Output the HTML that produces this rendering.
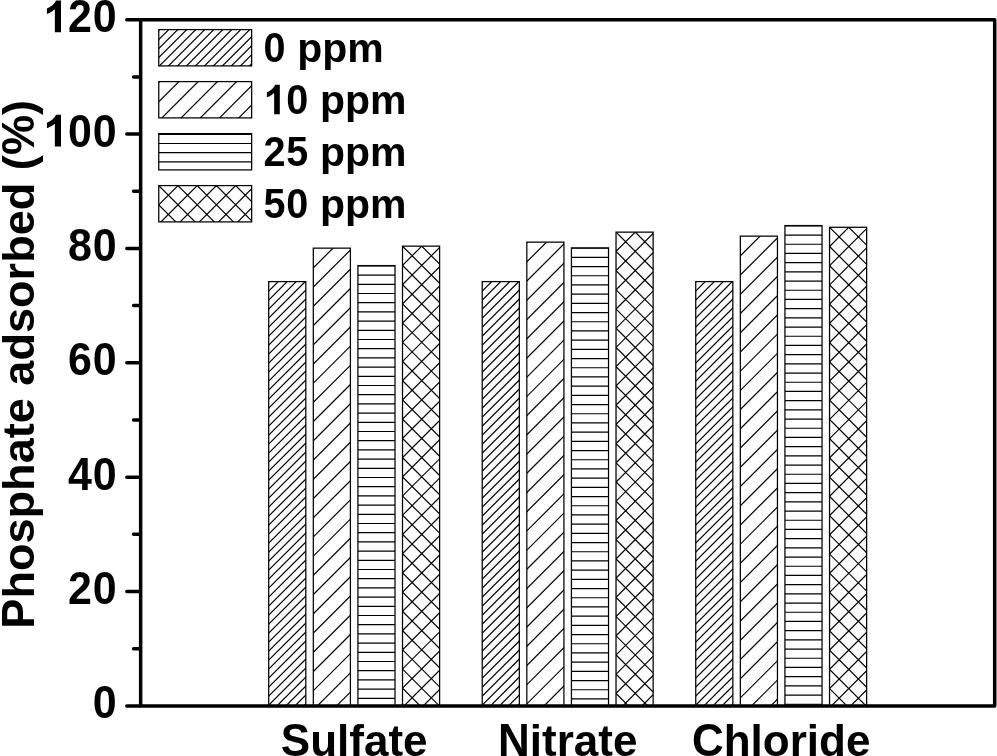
<!DOCTYPE html>
<html><head><meta charset="utf-8"><title>Phosphate adsorbed</title>
<style>
html,body{margin:0;padding:0;background:#fff;}
body{width:997px;height:756px;overflow:hidden;}
svg{display:block;will-change:transform;filter:blur(0.4px);}
text{font-family:"Liberation Sans",sans-serif;font-weight:bold;fill:#000;}
</style></head><body>
<svg width="997" height="756" viewBox="0 0 997 756">
<rect width="997" height="756" fill="#fff"/>
<clipPath id="c1"><rect x="268.71" y="281.60" width="37.10" height="424.30"/></clipPath>
<path clip-path="url(#c1)" d="M267.71 283.10L306.81 244.00M267.71 292.10L306.81 253.00M267.71 301.10L306.81 262.00M267.71 310.10L306.81 271.00M267.71 319.10L306.81 280.00M267.71 328.10L306.81 289.00M267.71 337.10L306.81 298.00M267.71 346.10L306.81 307.00M267.71 355.10L306.81 316.00M267.71 364.10L306.81 325.00M267.71 373.10L306.81 334.00M267.71 382.10L306.81 343.00M267.71 391.10L306.81 352.00M267.71 400.10L306.81 361.00M267.71 409.10L306.81 370.00M267.71 418.10L306.81 379.00M267.71 427.10L306.81 388.00M267.71 436.10L306.81 397.00M267.71 445.10L306.81 406.00M267.71 454.10L306.81 415.00M267.71 463.10L306.81 424.00M267.71 472.10L306.81 433.00M267.71 481.10L306.81 442.00M267.71 490.10L306.81 451.00M267.71 499.10L306.81 460.00M267.71 508.10L306.81 469.00M267.71 517.10L306.81 478.00M267.71 526.10L306.81 487.00M267.71 535.10L306.81 496.00M267.71 544.10L306.81 505.00M267.71 553.10L306.81 514.00M267.71 562.10L306.81 523.00M267.71 571.10L306.81 532.00M267.71 580.10L306.81 541.00M267.71 589.10L306.81 550.00M267.71 598.10L306.81 559.00M267.71 607.10L306.81 568.00M267.71 616.10L306.81 577.00M267.71 625.10L306.81 586.00M267.71 634.10L306.81 595.00M267.71 643.10L306.81 604.00M267.71 652.10L306.81 613.00M267.71 661.10L306.81 622.00M267.71 670.10L306.81 631.00M267.71 679.10L306.81 640.00M267.71 688.10L306.81 649.00M267.71 697.10L306.81 658.00M267.71 706.10L306.81 667.00M267.71 715.10L306.81 676.00M267.71 724.10L306.81 685.00M267.71 733.10L306.81 694.00M267.71 742.10L306.81 703.00" stroke="#000" stroke-width="1.2" fill="none"/>
<rect x="268.71" y="281.60" width="37.10" height="424.30" fill="none" stroke="#000" stroke-width="1.25"/>
<clipPath id="c2"><rect x="313.31" y="248.15" width="37.10" height="457.75"/></clipPath>
<path clip-path="url(#c2)" d="M312.31 249.65L351.41 210.55M312.31 268.87L351.41 229.77M312.31 288.09L351.41 248.99M312.31 307.31L351.41 268.21M312.31 326.53L351.41 287.43M312.31 345.75L351.41 306.65M312.31 364.97L351.41 325.87M312.31 384.19L351.41 345.09M312.31 403.41L351.41 364.31M312.31 422.63L351.41 383.53M312.31 441.85L351.41 402.75M312.31 461.07L351.41 421.97M312.31 480.29L351.41 441.19M312.31 499.51L351.41 460.41M312.31 518.73L351.41 479.63M312.31 537.95L351.41 498.85M312.31 557.17L351.41 518.07M312.31 576.39L351.41 537.29M312.31 595.61L351.41 556.51M312.31 614.83L351.41 575.73M312.31 634.05L351.41 594.95M312.31 653.27L351.41 614.17M312.31 672.49L351.41 633.39M312.31 691.71L351.41 652.61M312.31 710.93L351.41 671.83M312.31 730.15L351.41 691.05" stroke="#000" stroke-width="1.2" fill="none"/>
<rect x="313.31" y="248.15" width="37.10" height="457.75" fill="none" stroke="#000" stroke-width="1.25"/>
<clipPath id="c3"><rect x="357.91" y="265.59" width="37.10" height="440.31"/></clipPath>
<path clip-path="url(#c3)" d="M357.91 265.89H395.01M357.91 275.09H395.01M357.91 284.29H395.01M357.91 293.49H395.01M357.91 302.69H395.01M357.91 311.89H395.01M357.91 321.09H395.01M357.91 330.29H395.01M357.91 339.49H395.01M357.91 348.69H395.01M357.91 357.89H395.01M357.91 367.09H395.01M357.91 376.29H395.01M357.91 385.49H395.01M357.91 394.69H395.01M357.91 403.89H395.01M357.91 413.09H395.01M357.91 422.29H395.01M357.91 431.49H395.01M357.91 440.69H395.01M357.91 449.89H395.01M357.91 459.09H395.01M357.91 468.29H395.01M357.91 477.49H395.01M357.91 486.69H395.01M357.91 495.89H395.01M357.91 505.09H395.01M357.91 514.29H395.01M357.91 523.49H395.01M357.91 532.69H395.01M357.91 541.89H395.01M357.91 551.09H395.01M357.91 560.29H395.01M357.91 569.49H395.01M357.91 578.69H395.01M357.91 587.89H395.01M357.91 597.09H395.01M357.91 606.29H395.01M357.91 615.49H395.01M357.91 624.69H395.01M357.91 633.89H395.01M357.91 643.09H395.01M357.91 652.29H395.01M357.91 661.49H395.01M357.91 670.69H395.01M357.91 679.89H395.01M357.91 689.09H395.01M357.91 698.29H395.01" stroke="#000" stroke-width="1.2" fill="none"/>
<rect x="357.91" y="265.59" width="37.10" height="440.31" fill="none" stroke="#000" stroke-width="1.25"/>
<clipPath id="c4"><rect x="402.51" y="246.15" width="37.10" height="459.75"/></clipPath>
<path clip-path="url(#c4)" d="M401.51 247.15L440.61 208.05M401.51 266.37L440.61 227.27M401.51 285.59L440.61 246.49M401.51 304.81L440.61 265.71M401.51 324.03L440.61 284.93M401.51 343.25L440.61 304.15M401.51 362.47L440.61 323.37M401.51 381.69L440.61 342.59M401.51 400.91L440.61 361.81M401.51 420.13L440.61 381.03M401.51 439.35L440.61 400.25M401.51 458.57L440.61 419.47M401.51 477.79L440.61 438.69M401.51 497.01L440.61 457.91M401.51 516.23L440.61 477.13M401.51 535.45L440.61 496.35M401.51 554.67L440.61 515.57M401.51 573.89L440.61 534.79M401.51 593.11L440.61 554.01M401.51 612.33L440.61 573.23M401.51 631.55L440.61 592.45M401.51 650.77L440.61 611.67M401.51 669.99L440.61 630.89M401.51 689.21L440.61 650.11M401.51 708.43L440.61 669.33M401.51 727.65L440.61 688.55M401.51 225.93L440.61 265.03M401.51 245.15L440.61 284.25M401.51 264.37L440.61 303.47M401.51 283.59L440.61 322.69M401.51 302.81L440.61 341.91M401.51 322.03L440.61 361.13M401.51 341.25L440.61 380.35M401.51 360.47L440.61 399.57M401.51 379.69L440.61 418.79M401.51 398.91L440.61 438.01M401.51 418.13L440.61 457.23M401.51 437.35L440.61 476.45M401.51 456.57L440.61 495.67M401.51 475.79L440.61 514.89M401.51 495.01L440.61 534.11M401.51 514.23L440.61 553.33M401.51 533.45L440.61 572.55M401.51 552.67L440.61 591.77M401.51 571.89L440.61 610.99M401.51 591.11L440.61 630.21M401.51 610.33L440.61 649.43M401.51 629.55L440.61 668.65M401.51 648.77L440.61 687.87M401.51 667.99L440.61 707.09M401.51 687.21L440.61 726.31" stroke="#000" stroke-width="1.2" fill="none"/>
<rect x="402.51" y="246.15" width="37.10" height="459.75" fill="none" stroke="#000" stroke-width="1.25"/>
<clipPath id="c5"><rect x="482.23" y="281.60" width="37.10" height="424.30"/></clipPath>
<path clip-path="url(#c5)" d="M481.23 283.10L520.33 244.00M481.23 292.10L520.33 253.00M481.23 301.10L520.33 262.00M481.23 310.10L520.33 271.00M481.23 319.10L520.33 280.00M481.23 328.10L520.33 289.00M481.23 337.10L520.33 298.00M481.23 346.10L520.33 307.00M481.23 355.10L520.33 316.00M481.23 364.10L520.33 325.00M481.23 373.10L520.33 334.00M481.23 382.10L520.33 343.00M481.23 391.10L520.33 352.00M481.23 400.10L520.33 361.00M481.23 409.10L520.33 370.00M481.23 418.10L520.33 379.00M481.23 427.10L520.33 388.00M481.23 436.10L520.33 397.00M481.23 445.10L520.33 406.00M481.23 454.10L520.33 415.00M481.23 463.10L520.33 424.00M481.23 472.10L520.33 433.00M481.23 481.10L520.33 442.00M481.23 490.10L520.33 451.00M481.23 499.10L520.33 460.00M481.23 508.10L520.33 469.00M481.23 517.10L520.33 478.00M481.23 526.10L520.33 487.00M481.23 535.10L520.33 496.00M481.23 544.10L520.33 505.00M481.23 553.10L520.33 514.00M481.23 562.10L520.33 523.00M481.23 571.10L520.33 532.00M481.23 580.10L520.33 541.00M481.23 589.10L520.33 550.00M481.23 598.10L520.33 559.00M481.23 607.10L520.33 568.00M481.23 616.10L520.33 577.00M481.23 625.10L520.33 586.00M481.23 634.10L520.33 595.00M481.23 643.10L520.33 604.00M481.23 652.10L520.33 613.00M481.23 661.10L520.33 622.00M481.23 670.10L520.33 631.00M481.23 679.10L520.33 640.00M481.23 688.10L520.33 649.00M481.23 697.10L520.33 658.00M481.23 706.10L520.33 667.00M481.23 715.10L520.33 676.00M481.23 724.10L520.33 685.00M481.23 733.10L520.33 694.00M481.23 742.10L520.33 703.00" stroke="#000" stroke-width="1.2" fill="none"/>
<rect x="482.23" y="281.60" width="37.10" height="424.30" fill="none" stroke="#000" stroke-width="1.25"/>
<clipPath id="c6"><rect x="526.83" y="242.14" width="37.10" height="463.76"/></clipPath>
<path clip-path="url(#c6)" d="M525.83 243.64L564.93 204.54M525.83 262.86L564.93 223.76M525.83 282.08L564.93 242.98M525.83 301.30L564.93 262.20M525.83 320.52L564.93 281.42M525.83 339.74L564.93 300.64M525.83 358.96L564.93 319.86M525.83 378.18L564.93 339.08M525.83 397.40L564.93 358.30M525.83 416.62L564.93 377.52M525.83 435.84L564.93 396.74M525.83 455.06L564.93 415.96M525.83 474.28L564.93 435.18M525.83 493.50L564.93 454.40M525.83 512.72L564.93 473.62M525.83 531.94L564.93 492.84M525.83 551.16L564.93 512.06M525.83 570.38L564.93 531.28M525.83 589.60L564.93 550.50M525.83 608.82L564.93 569.72M525.83 628.04L564.93 588.94M525.83 647.26L564.93 608.16M525.83 666.48L564.93 627.38M525.83 685.70L564.93 646.60M525.83 704.92L564.93 665.82M525.83 724.14L564.93 685.04M525.83 743.36L564.93 704.26" stroke="#000" stroke-width="1.2" fill="none"/>
<rect x="526.83" y="242.14" width="37.10" height="463.76" fill="none" stroke="#000" stroke-width="1.25"/>
<clipPath id="c7"><rect x="571.43" y="247.86" width="37.10" height="458.04"/></clipPath>
<path clip-path="url(#c7)" d="M571.43 248.16H608.52M571.43 257.36H608.52M571.43 266.56H608.52M571.43 275.76H608.52M571.43 284.96H608.52M571.43 294.16H608.52M571.43 303.36H608.52M571.43 312.56H608.52M571.43 321.76H608.52M571.43 330.96H608.52M571.43 340.16H608.52M571.43 349.36H608.52M571.43 358.56H608.52M571.43 367.76H608.52M571.43 376.96H608.52M571.43 386.16H608.52M571.43 395.36H608.52M571.43 404.56H608.52M571.43 413.76H608.52M571.43 422.96H608.52M571.43 432.16H608.52M571.43 441.36H608.52M571.43 450.56H608.52M571.43 459.76H608.52M571.43 468.96H608.52M571.43 478.16H608.52M571.43 487.36H608.52M571.43 496.56H608.52M571.43 505.76H608.52M571.43 514.96H608.52M571.43 524.16H608.52M571.43 533.36H608.52M571.43 542.56H608.52M571.43 551.76H608.52M571.43 560.96H608.52M571.43 570.16H608.52M571.43 579.36H608.52M571.43 588.56H608.52M571.43 597.76H608.52M571.43 606.96H608.52M571.43 616.16H608.52M571.43 625.36H608.52M571.43 634.56H608.52M571.43 643.76H608.52M571.43 652.96H608.52M571.43 662.16H608.52M571.43 671.36H608.52M571.43 680.56H608.52M571.43 689.76H608.52M571.43 698.96H608.52" stroke="#000" stroke-width="1.2" fill="none"/>
<rect x="571.43" y="247.86" width="37.10" height="458.04" fill="none" stroke="#000" stroke-width="1.25"/>
<clipPath id="c8"><rect x="616.03" y="232.14" width="37.10" height="473.76"/></clipPath>
<path clip-path="url(#c8)" d="M615.03 233.14L654.12 194.04M615.03 252.36L654.12 213.26M615.03 271.58L654.12 232.48M615.03 290.80L654.12 251.70M615.03 310.02L654.12 270.92M615.03 329.24L654.12 290.14M615.03 348.46L654.12 309.36M615.03 367.68L654.12 328.58M615.03 386.90L654.12 347.80M615.03 406.12L654.12 367.02M615.03 425.34L654.12 386.24M615.03 444.56L654.12 405.46M615.03 463.78L654.12 424.68M615.03 483.00L654.12 443.90M615.03 502.22L654.12 463.12M615.03 521.44L654.12 482.34M615.03 540.66L654.12 501.56M615.03 559.88L654.12 520.78M615.03 579.10L654.12 540.00M615.03 598.32L654.12 559.22M615.03 617.54L654.12 578.44M615.03 636.76L654.12 597.66M615.03 655.98L654.12 616.88M615.03 675.20L654.12 636.10M615.03 694.42L654.12 655.32M615.03 713.64L654.12 674.54M615.03 732.86L654.12 693.76M615.03 211.92L654.12 251.02M615.03 231.14L654.12 270.24M615.03 250.36L654.12 289.46M615.03 269.58L654.12 308.68M615.03 288.80L654.12 327.90M615.03 308.02L654.12 347.12M615.03 327.24L654.12 366.34M615.03 346.46L654.12 385.56M615.03 365.68L654.12 404.78M615.03 384.90L654.12 424.00M615.03 404.12L654.12 443.22M615.03 423.34L654.12 462.44M615.03 442.56L654.12 481.66M615.03 461.78L654.12 500.88M615.03 481.00L654.12 520.10M615.03 500.22L654.12 539.32M615.03 519.44L654.12 558.54M615.03 538.66L654.12 577.76M615.03 557.88L654.12 596.98M615.03 577.10L654.12 616.20M615.03 596.32L654.12 635.42M615.03 615.54L654.12 654.64M615.03 634.76L654.12 673.86M615.03 653.98L654.12 693.08M615.03 673.20L654.12 712.30M615.03 692.42L654.12 731.52" stroke="#000" stroke-width="1.2" fill="none"/>
<rect x="616.03" y="232.14" width="37.10" height="473.76" fill="none" stroke="#000" stroke-width="1.25"/>
<clipPath id="c9"><rect x="695.74" y="281.60" width="37.10" height="424.30"/></clipPath>
<path clip-path="url(#c9)" d="M694.74 283.10L733.84 244.00M694.74 292.10L733.84 253.00M694.74 301.10L733.84 262.00M694.74 310.10L733.84 271.00M694.74 319.10L733.84 280.00M694.74 328.10L733.84 289.00M694.74 337.10L733.84 298.00M694.74 346.10L733.84 307.00M694.74 355.10L733.84 316.00M694.74 364.10L733.84 325.00M694.74 373.10L733.84 334.00M694.74 382.10L733.84 343.00M694.74 391.10L733.84 352.00M694.74 400.10L733.84 361.00M694.74 409.10L733.84 370.00M694.74 418.10L733.84 379.00M694.74 427.10L733.84 388.00M694.74 436.10L733.84 397.00M694.74 445.10L733.84 406.00M694.74 454.10L733.84 415.00M694.74 463.10L733.84 424.00M694.74 472.10L733.84 433.00M694.74 481.10L733.84 442.00M694.74 490.10L733.84 451.00M694.74 499.10L733.84 460.00M694.74 508.10L733.84 469.00M694.74 517.10L733.84 478.00M694.74 526.10L733.84 487.00M694.74 535.10L733.84 496.00M694.74 544.10L733.84 505.00M694.74 553.10L733.84 514.00M694.74 562.10L733.84 523.00M694.74 571.10L733.84 532.00M694.74 580.10L733.84 541.00M694.74 589.10L733.84 550.00M694.74 598.10L733.84 559.00M694.74 607.10L733.84 568.00M694.74 616.10L733.84 577.00M694.74 625.10L733.84 586.00M694.74 634.10L733.84 595.00M694.74 643.10L733.84 604.00M694.74 652.10L733.84 613.00M694.74 661.10L733.84 622.00M694.74 670.10L733.84 631.00M694.74 679.10L733.84 640.00M694.74 688.10L733.84 649.00M694.74 697.10L733.84 658.00M694.74 706.10L733.84 667.00M694.74 715.10L733.84 676.00M694.74 724.10L733.84 685.00M694.74 733.10L733.84 694.00M694.74 742.10L733.84 703.00" stroke="#000" stroke-width="1.2" fill="none"/>
<rect x="695.74" y="281.60" width="37.10" height="424.30" fill="none" stroke="#000" stroke-width="1.25"/>
<clipPath id="c10"><rect x="740.34" y="236.14" width="37.10" height="469.76"/></clipPath>
<path clip-path="url(#c10)" d="M739.34 237.64L778.44 198.54M739.34 256.86L778.44 217.76M739.34 276.08L778.44 236.98M739.34 295.30L778.44 256.20M739.34 314.52L778.44 275.42M739.34 333.74L778.44 294.64M739.34 352.96L778.44 313.86M739.34 372.18L778.44 333.08M739.34 391.40L778.44 352.30M739.34 410.62L778.44 371.52M739.34 429.84L778.44 390.74M739.34 449.06L778.44 409.96M739.34 468.28L778.44 429.18M739.34 487.50L778.44 448.40M739.34 506.72L778.44 467.62M739.34 525.94L778.44 486.84M739.34 545.16L778.44 506.06M739.34 564.38L778.44 525.28M739.34 583.60L778.44 544.50M739.34 602.82L778.44 563.72M739.34 622.04L778.44 582.94M739.34 641.26L778.44 602.16M739.34 660.48L778.44 621.38M739.34 679.70L778.44 640.60M739.34 698.92L778.44 659.82M739.34 718.14L778.44 679.04M739.34 737.36L778.44 698.26" stroke="#000" stroke-width="1.2" fill="none"/>
<rect x="740.34" y="236.14" width="37.10" height="469.76" fill="none" stroke="#000" stroke-width="1.25"/>
<clipPath id="c11"><rect x="784.94" y="225.56" width="37.10" height="480.34"/></clipPath>
<path clip-path="url(#c11)" d="M784.94 225.86H822.04M784.94 235.06H822.04M784.94 244.26H822.04M784.94 253.46H822.04M784.94 262.66H822.04M784.94 271.86H822.04M784.94 281.06H822.04M784.94 290.26H822.04M784.94 299.46H822.04M784.94 308.66H822.04M784.94 317.86H822.04M784.94 327.06H822.04M784.94 336.26H822.04M784.94 345.46H822.04M784.94 354.66H822.04M784.94 363.86H822.04M784.94 373.06H822.04M784.94 382.26H822.04M784.94 391.46H822.04M784.94 400.66H822.04M784.94 409.86H822.04M784.94 419.06H822.04M784.94 428.26H822.04M784.94 437.46H822.04M784.94 446.66H822.04M784.94 455.86H822.04M784.94 465.06H822.04M784.94 474.26H822.04M784.94 483.46H822.04M784.94 492.66H822.04M784.94 501.86H822.04M784.94 511.06H822.04M784.94 520.26H822.04M784.94 529.46H822.04M784.94 538.66H822.04M784.94 547.86H822.04M784.94 557.06H822.04M784.94 566.26H822.04M784.94 575.46H822.04M784.94 584.66H822.04M784.94 593.86H822.04M784.94 603.06H822.04M784.94 612.26H822.04M784.94 621.46H822.04M784.94 630.66H822.04M784.94 639.86H822.04M784.94 649.06H822.04M784.94 658.26H822.04M784.94 667.46H822.04M784.94 676.66H822.04M784.94 685.86H822.04M784.94 695.06H822.04M784.94 704.26H822.04" stroke="#000" stroke-width="1.2" fill="none"/>
<rect x="784.94" y="225.56" width="37.10" height="480.34" fill="none" stroke="#000" stroke-width="1.25"/>
<clipPath id="c12"><rect x="829.54" y="227.28" width="37.10" height="478.62"/></clipPath>
<path clip-path="url(#c12)" d="M828.54 228.28L867.64 189.18M828.54 247.50L867.64 208.40M828.54 266.72L867.64 227.62M828.54 285.94L867.64 246.84M828.54 305.16L867.64 266.06M828.54 324.38L867.64 285.28M828.54 343.60L867.64 304.50M828.54 362.82L867.64 323.72M828.54 382.04L867.64 342.94M828.54 401.26L867.64 362.16M828.54 420.48L867.64 381.38M828.54 439.70L867.64 400.60M828.54 458.92L867.64 419.82M828.54 478.14L867.64 439.04M828.54 497.36L867.64 458.26M828.54 516.58L867.64 477.48M828.54 535.80L867.64 496.70M828.54 555.02L867.64 515.92M828.54 574.24L867.64 535.14M828.54 593.46L867.64 554.36M828.54 612.68L867.64 573.58M828.54 631.90L867.64 592.80M828.54 651.12L867.64 612.02M828.54 670.34L867.64 631.24M828.54 689.56L867.64 650.46M828.54 708.78L867.64 669.68M828.54 728.00L867.64 688.90M828.54 207.06L867.64 246.16M828.54 226.28L867.64 265.38M828.54 245.50L867.64 284.60M828.54 264.72L867.64 303.82M828.54 283.94L867.64 323.04M828.54 303.16L867.64 342.26M828.54 322.38L867.64 361.48M828.54 341.60L867.64 380.70M828.54 360.82L867.64 399.92M828.54 380.04L867.64 419.14M828.54 399.26L867.64 438.36M828.54 418.48L867.64 457.58M828.54 437.70L867.64 476.80M828.54 456.92L867.64 496.02M828.54 476.14L867.64 515.24M828.54 495.36L867.64 534.46M828.54 514.58L867.64 553.68M828.54 533.80L867.64 572.90M828.54 553.02L867.64 592.12M828.54 572.24L867.64 611.34M828.54 591.46L867.64 630.56M828.54 610.68L867.64 649.78M828.54 629.90L867.64 669.00M828.54 649.12L867.64 688.22M828.54 668.34L867.64 707.44M828.54 687.56L867.64 726.66" stroke="#000" stroke-width="1.2" fill="none"/>
<rect x="829.54" y="227.28" width="37.10" height="478.62" fill="none" stroke="#000" stroke-width="1.25"/>
<clipPath id="c13"><rect x="158.76" y="29.60" width="92.90" height="36.30"/></clipPath>
<path clip-path="url(#c13)" d="M157.76 31.60L252.66 -63.30M157.76 40.60L252.66 -54.30M157.76 49.60L252.66 -45.30M157.76 58.60L252.66 -36.30M157.76 67.60L252.66 -27.30M157.76 76.60L252.66 -18.30M157.76 85.60L252.66 -9.30M157.76 94.60L252.66 -0.30M157.76 103.60L252.66 8.70M157.76 112.60L252.66 17.70M157.76 121.60L252.66 26.70M157.76 130.60L252.66 35.70M157.76 139.60L252.66 44.70M157.76 148.60L252.66 53.70M157.76 157.60L252.66 62.70" stroke="#000" stroke-width="1.2" fill="none"/>
<rect x="158.76" y="29.60" width="92.90" height="36.30" fill="none" stroke="#000" stroke-width="1.25"/>
<text transform="translate(263.40 62.20) scale(0.965 1.04)" font-size="41.0">0</text>
<text transform="translate(285.80 62.20)" font-size="41.0">&#160;ppm</text>
<clipPath id="c14"><rect x="158.76" y="81.60" width="92.90" height="36.30"/></clipPath>
<path clip-path="url(#c14)" d="M157.76 83.60L252.66 -11.30M157.76 102.82L252.66 7.92M157.76 122.04L252.66 27.14M157.76 141.26L252.66 46.36M157.76 160.48L252.66 65.58M157.76 179.70L252.66 84.80M157.76 198.92L252.66 104.02" stroke="#000" stroke-width="1.2" fill="none"/>
<rect x="158.76" y="81.60" width="92.90" height="36.30" fill="none" stroke="#000" stroke-width="1.25"/>
<path transform="translate(263.66 114.25) scale(0.02002 -0.02001)" d="M806 0H524V1062Q369 917 160 848V1104Q270 1140 399 1240.5Q528 1341 576 1472H806Z" fill="#000"/>
<text transform="translate(286.20 114.25) scale(0.965 1.04)" font-size="41.0">0</text>
<text transform="translate(308.60 114.25)" font-size="41.0">&#160;ppm</text>
<clipPath id="c15"><rect x="158.76" y="133.60" width="92.90" height="36.30"/></clipPath>
<path clip-path="url(#c15)" d="M158.76 134.30H251.66M158.76 143.50H251.66M158.76 152.70H251.66M158.76 161.90H251.66" stroke="#000" stroke-width="1.2" fill="none"/>
<rect x="158.76" y="133.60" width="92.90" height="36.30" fill="none" stroke="#000" stroke-width="1.25"/>
<text transform="translate(263.40 166.30) scale(0.965 1.04)" font-size="41.0">2</text>
<text transform="translate(286.20 166.30) scale(0.965 1.04)" font-size="41.0">5</text>
<text transform="translate(308.60 166.30)" font-size="41.0">&#160;ppm</text>
<clipPath id="c16"><rect x="158.76" y="185.60" width="92.90" height="36.30"/></clipPath>
<path clip-path="url(#c16)" d="M157.76 186.60L252.66 91.70M157.76 205.82L252.66 110.92M157.76 225.04L252.66 130.14M157.76 244.26L252.66 149.36M157.76 263.48L252.66 168.58M157.76 282.70L252.66 187.80M157.76 301.92L252.66 207.02M157.76 107.72L252.66 202.62M157.76 126.94L252.66 221.84M157.76 146.16L252.66 241.06M157.76 165.38L252.66 260.28M157.76 184.60L252.66 279.50M157.76 203.82L252.66 298.72" stroke="#000" stroke-width="1.2" fill="none"/>
<rect x="158.76" y="185.60" width="92.90" height="36.30" fill="none" stroke="#000" stroke-width="1.25"/>
<text transform="translate(263.40 218.35) scale(0.965 1.04)" font-size="41.0">5</text>
<text transform="translate(286.20 218.35) scale(0.965 1.04)" font-size="41.0">0</text>
<text transform="translate(308.60 218.35)" font-size="41.0">&#160;ppm</text>
<rect x="140.65" y="19.70" width="854.05" height="686.20" fill="none" stroke="#000" stroke-width="3.5" stroke-linejoin="round"/>
<path d="M126.80 705.90H139.65M133.60 648.72H139.65M126.80 591.53H139.65M133.60 534.35H139.65M126.80 477.17H139.65M133.60 419.98H139.65M126.80 362.80H139.65M133.60 305.62H139.65M126.80 248.43H139.65M133.60 191.25H139.65M126.80 134.07H139.65M133.60 76.88H139.65M126.80 19.70H139.65" stroke="#000" stroke-width="3.5" stroke-linecap="round" fill="none"/>
<text transform="translate(92.68 718.45) scale(0.965 1.035)" font-size="44.5">0</text>
<text transform="translate(67.94 604.08) scale(0.965 1.035)" font-size="44.5">2</text>
<text transform="translate(92.68 604.08) scale(0.965 1.035)" font-size="44.5">0</text>
<text transform="translate(67.94 489.72) scale(0.965 1.035)" font-size="44.5">4</text>
<text transform="translate(92.68 489.72) scale(0.965 1.035)" font-size="44.5">0</text>
<text transform="translate(67.94 375.35) scale(0.965 1.035)" font-size="44.5">6</text>
<text transform="translate(92.68 375.35) scale(0.965 1.035)" font-size="44.5">0</text>
<text transform="translate(67.94 260.98) scale(0.965 1.035)" font-size="44.5">8</text>
<text transform="translate(92.68 260.98) scale(0.965 1.035)" font-size="44.5">0</text>
<path transform="translate(43.47 146.62) scale(0.02173 -0.02161)" d="M806 0H524V1062Q369 917 160 848V1104Q270 1140 399 1240.5Q528 1341 576 1472H806Z" fill="#000"/>
<text transform="translate(67.94 146.62) scale(0.965 1.035)" font-size="44.5">0</text>
<text transform="translate(92.68 146.62) scale(0.965 1.035)" font-size="44.5">0</text>
<path transform="translate(43.47 32.25) scale(0.02173 -0.02161)" d="M806 0H524V1062Q369 917 160 848V1104Q270 1140 399 1240.5Q528 1341 576 1472H806Z" fill="#000"/>
<text transform="translate(67.94 32.25) scale(0.965 1.035)" font-size="44.5">2</text>
<text transform="translate(92.68 32.25) scale(0.965 1.035)" font-size="44.5">0</text>
<text transform="translate(280.81 756.40) scale(1.0 1.035)" font-size="44.0">S</text>
<text transform="translate(310.16 756.40)" font-size="44.0">ulfate</text>
<text transform="translate(497.99 756.40) scale(1.0 1.035)" font-size="44.0">N</text>
<text transform="translate(529.77 756.40)" font-size="44.0">itrate</text>
<text transform="translate(691.96 756.40) scale(1.0 1.035)" font-size="44.0">C</text>
<text transform="translate(723.74 756.40)" font-size="44.0">hloride</text>
<text transform="translate(33.8 364.3) rotate(-90) translate(-264.37 0.00) scale(1.0 1.035)" font-size="45.1">P</text>
<text transform="translate(33.8 364.3) rotate(-90) translate(-234.29 0.00)" font-size="45.1">hosphate&#160;adsorbed&#160;(</text>
<text transform="translate(33.8 364.3) rotate(-90) translate(209.25 0.00) scale(1.0 1.035)" font-size="45.1">%</text>
<text transform="translate(33.8 364.3) rotate(-90) translate(249.35 0.00)" font-size="45.1">)</text>
</svg></body></html>
